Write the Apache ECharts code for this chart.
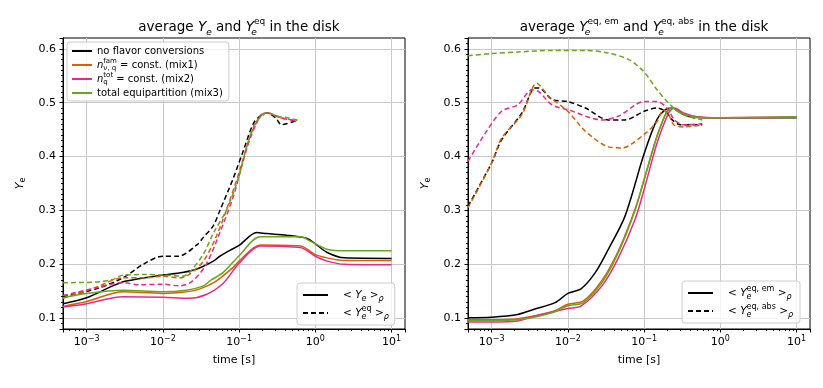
<!DOCTYPE html>
<html>
<head>
<meta charset="utf-8">
<script src="https://cdn.jsdelivr.net/npm/echarts@6/dist/echarts.min.js"></script>
<style>
  html, body { margin: 0; padding: 0; background: #fff; }
  #chart { width: 823px; height: 388px; }
</style>
</head>
<body>
<div id="chart"></div>
<script>
// ---- data: [time in s, Ye] ----
// left panel, solid: <Ye>_rho
const yeNoflav = [[4.9e-4,0.127],[1e-3,0.138],[2.2e-3,0.160],[3.3e-3,0.169],[1e-2,0.180],[1.8e-2,0.185],[2.75e-2,0.191],[4.6e-2,0.206],[5.6e-2,0.215],[7.6e-2,0.226],[0.1,0.235],[0.17,0.259],[0.23,0.257],[0.42,0.254],[0.78,0.248],[1.0,0.238],[1.43,0.222],[2.4,0.212],[10,0.211]];
const yeMix1 = [[4.9e-4,0.122],[1e-3,0.131],[3e-3,0.149],[1e-2,0.146],[1.8e-2,0.148],[3e-2,0.154],[5e-2,0.169],[8.3e-2,0.194],[0.1,0.206],[0.19,0.236],[0.64,0.234],[1.0,0.218],[1.43,0.212],[2.4,0.207],[10,0.207]];
const yeMix2 = [[4.9e-4,0.121],[1e-3,0.127],[3e-3,0.140],[1e-2,0.139],[2.2e-2,0.137],[3.7e-2,0.144],[6.2e-2,0.165],[0.1,0.202],[0.19,0.234],[0.64,0.231],[1.0,0.215],[1.43,0.206],[2.4,0.200],[10,0.199]];
const yeMix3 = [[4.9e-4,0.138],[1e-3,0.146],[3e-3,0.152],[1e-2,0.149],[2e-2,0.152],[3.4e-2,0.160],[4.2e-2,0.170],[6.2e-2,0.185],[0.1,0.216],[0.19,0.251],[0.64,0.251],[0.86,0.243],[1.43,0.228],[2.4,0.225],[10,0.225]];
// left panel, dashed: <Ye^eq>_rho
const yeqNoflav = [[4.9e-4,0.140],[1.3e-3,0.154],[3e-3,0.175],[5.5e-3,0.200],[1e-2,0.215],[1.6e-2,0.215],[2.8e-2,0.236],[3.4e-2,0.250],[4.6e-2,0.272],[5.6e-2,0.300],[8.4e-2,0.360],[0.115,0.413],[0.155,0.462],[0.2,0.478],[0.23,0.481],[0.3,0.472],[0.36,0.459],[0.42,0.461],[0.58,0.467]];
const yeqMix1 = [[4.9e-4,0.137],[1.3e-3,0.157],[3e-3,0.175],[6e-3,0.175],[1e-2,0.178],[1.66e-2,0.175],[2.2e-2,0.181],[3.4e-2,0.206],[5.1e-2,0.254],[7.6e-2,0.320],[0.103,0.376],[0.14,0.438],[0.19,0.475],[0.23,0.481],[0.35,0.472],[0.58,0.467]];
const yeqMix2 = [[4.9e-4,0.142],[1.3e-3,0.156],[3e-3,0.166],[4.9e-3,0.162],[1e-2,0.163],[1.66e-2,0.160],[2.45e-2,0.169],[3.7e-2,0.200],[5.6e-2,0.259],[8.4e-2,0.326],[0.108,0.382],[0.14,0.434],[0.19,0.475],[0.23,0.481],[0.35,0.472],[0.58,0.465]];
const yeqMix3 = [[4.9e-4,0.166],[1.3e-3,0.167],[2.2e-3,0.172],[3e-3,0.180],[6e-3,0.181],[1e-2,0.180],[1.8e-2,0.178],[2.2e-2,0.184],[3.4e-2,0.219],[4.6e-2,0.258],[6.9e-2,0.302],[0.1,0.364],[0.126,0.419],[0.162,0.462],[0.21,0.478],[0.23,0.482],[0.32,0.475],[0.43,0.472],[0.58,0.468]];
// right panel, solid: <Ye^eq,em>_rho
const emNoflav = [[4.9e-4,0.101],[1e-3,0.102],[2.2e-3,0.107],[3.7e-3,0.117],[6.8e-3,0.129],[1e-2,0.146],[1.5e-2,0.155],[2.3e-2,0.185],[3.4e-2,0.228],[5.6e-2,0.289],[0.1,0.405],[0.148,0.469],[0.19,0.487],[0.234,0.490],[0.33,0.478],[0.45,0.473],[1,0.472],[10,0.472]];
const emMix1 = [[4.9e-4,0.097],[1e-3,0.097],[2.2e-3,0.099],[6.2e-3,0.112],[1e-2,0.126],[1.6e-2,0.132],[2.8e-2,0.170],[4.6e-2,0.225],[7.6e-2,0.302],[0.1,0.357],[0.148,0.438],[0.2,0.484],[0.234,0.490],[0.3,0.481],[0.5,0.473],[1,0.472],[10,0.473]];
const emMix2 = [[4.9e-4,0.093],[1e-3,0.093],[2.2e-3,0.095],[3.7e-3,0.104],[1e-2,0.118],[1.5e-2,0.123],[2.8e-2,0.160],[4.6e-2,0.212],[7.6e-2,0.283],[0.1,0.339],[0.148,0.425],[0.21,0.481],[0.25,0.490],[0.33,0.481],[0.5,0.474],[1,0.472],[10,0.473]];
const emMix3 = [[4.9e-4,0.096],[1e-3,0.096],[2.2e-3,0.097],[6.2e-3,0.110],[1e-2,0.123],[1.6e-2,0.129],[2.8e-2,0.166],[4.6e-2,0.222],[7.6e-2,0.300],[0.1,0.357],[0.148,0.438],[0.2,0.484],[0.234,0.490],[0.3,0.481],[0.5,0.473],[1,0.472],[10,0.474]];
// right panel, dashed: <Ye^eq,abs>_rho
const absNoflav = [[4.9e-4,0.308],[1e-3,0.388],[1.35e-3,0.431],[2.5e-3,0.481],[3.7e-3,0.527],[4.2e-3,0.527],[6.2e-3,0.506],[1e-2,0.502],[1.7e-2,0.490],[3.4e-2,0.468],[5.6e-2,0.468],[0.1,0.484],[0.148,0.490],[0.19,0.484],[0.234,0.468],[0.3,0.459],[0.43,0.459],[0.58,0.459]];
const absMix1 = [[4.9e-4,0.305],[1e-3,0.388],[1.35e-3,0.434],[2.5e-3,0.478],[3.9e-3,0.536],[5.6e-3,0.512],[1e-2,0.484],[1.7e-2,0.447],[3.4e-2,0.418],[5.1e-2,0.416],[0.1,0.441],[0.148,0.465],[0.18,0.487],[0.21,0.478],[0.245,0.459],[0.33,0.455],[0.58,0.459]];
const absMix2 = [[4.9e-4,0.391],[8.3e-4,0.444],[1.35e-3,0.484],[2.2e-3,0.496],[3.4e-3,0.524],[4.2e-3,0.520],[6.2e-3,0.496],[1e-2,0.487],[2.8e-2,0.468],[4.6e-2,0.475],[0.1,0.502],[0.148,0.502],[0.2,0.490],[0.25,0.468],[0.33,0.459],[0.58,0.461]];
const absMix3 = [[4.9e-4,0.587],[1e-3,0.591],[2.2e-3,0.594],[6.2e-3,0.597],[1.7e-2,0.597],[3.4e-2,0.592],[6.3e-2,0.580],[0.1,0.557],[0.148,0.524],[0.22,0.496],[0.3,0.481],[0.41,0.473],[0.58,0.468]];

const runNames = ['noflav', 'mix1', 'mix2', 'mix3'];
const runColors = ['#000000', '#d95f02', '#e7298a', '#66a61e'];

const FONT = 'DejaVu Sans';

const legendText = {
  noflav: 'no flavor conversions',
  mix1: '{it|n}{subz|ν, q}{sup|fam} = const. (mix1)',
  mix2: '{it|n}{subz|q}{sup|tot} = const. (mix2)',
  mix3: 'total equipartition (mix3)',
  ye: '   < {it|Y}{sit|e} >{sit|ρ}',
  yeq: '   < {it|Y}{sitz|e}{sup|eq} >{sit|ρ}',
  em: '   < {it|Y}{sitz|e}{sup|eq, em} >{sit|ρ}',
  abs: '   < {it|Y}{sitz|e}{sup|eq, abs} >{sit|ρ}'
};

function mkSeries(name, color, data, dashed, idx) {
  return {
    name: name, type: 'line', data: data,
    xAxisIndex: idx, yAxisIndex: idx,
    symbol: 'none', showSymbol: false, smooth: 0.3,
    lineStyle: { color: color, width: 1.5, type: dashed ? [5, 3] : 'solid' },
    itemStyle: { color: color },
    emphasis: { disabled: true }
  };
}

const leftSolid = [yeNoflav, yeMix1, yeMix2, yeMix3];
const leftDash = [yeqNoflav, yeqMix1, yeqMix2, yeqMix3];
const rightSolid = [emNoflav, emMix1, emMix2, emMix3];
const rightDash = [absNoflav, absMix1, absMix2, absMix3];

const series = [];
for (let i = 0; i < 4; i++) {
  series.push(mkSeries(runNames[i], runColors[i], leftSolid[i], false, 0));
  series.push(mkSeries(runNames[i], runColors[i], leftDash[i], true, 0));
  series.push(mkSeries(runNames[i], runColors[i], rightSolid[i], false, 1));
  series.push(mkSeries(runNames[i], runColors[i], rightDash[i], true, 1));
}
// empty series only for the line-style legends
series.push(mkSeries('ye', '#000', [], false, 0));
series.push(mkSeries('yeq', '#000', [], true, 0));
series.push(mkSeries('em', '#000', [], false, 1));
series.push(mkSeries('abs', '#000', [], true, 1));

function xAxis(idx) {
  return {
    type: 'log', logBase: 10, gridIndex: idx, min: 4.9e-4, max: 15,
    name: 'time [s]', nameLocation: 'middle', nameGap: 26,
    nameTextStyle: { fontFamily: FONT, fontSize: 11, color: '#000' },
    axisLine: { show: true, lineStyle: { color: '#000', width: 1 } },
    axisTick: { show: true, length: 3.5, lineStyle: { color: '#000' } },
    minorTick: { show: true, splitNumber: 9, length: 2, lineStyle: { color: '#000' } },
    splitLine: { show: true, showMinLine: false, showMaxLine: false, lineStyle: { color: '#c8c8c8', width: 1 } },
    axisLabel: {
      margin: 6, fontFamily: FONT, fontSize: 11, color: '#000', lineHeight: 15,
      formatter: function (v) {
        const e = Math.round(Math.log10(v));
        if (Math.abs(Math.log10(v) - e) > 1e-6) return '';
        return '10{sup|' + (e < 0 ? '\u2212' + (-e) : e) + '}';
      },
      rich: { sup: { fontSize: 8, verticalAlign: 'top', fontFamily: FONT } }
    }
  };
}

function yAxis(idx) {
  return {
    type: 'value', gridIndex: idx, min: 0.08, max: 0.62,
    name: '{it|Y}{sub|e}', nameLocation: 'middle', nameGap: 36, nameRotate: 90,
    nameTextStyle: { fontFamily: FONT, fontSize: 11, color: '#000', lineHeight: 14,
      rich: { it: { fontStyle: 'italic', fontSize: 11 }, sub: { fontSize: 8, verticalAlign: 'bottom' } } },
    axisLine: { show: true, lineStyle: { color: '#000', width: 1 } },
    axisTick: { show: true, length: 3.5, lineStyle: { color: '#000' } },
    minorTick: { show: true, splitNumber: 10, length: 2, lineStyle: { color: '#000' } },
    splitLine: { show: true, showMinLine: false, showMaxLine: false, lineStyle: { color: '#c8c8c8', width: 1 } },
    axisLabel: {
      margin: 7, fontFamily: FONT, fontSize: 11, color: '#000',
      formatter: function (v) {
        return Math.abs(v * 10 - Math.round(v * 10)) < 1e-6 ? v.toFixed(1) : '';
      }
    }
  };
}

const legendBox = {
  backgroundColor: 'rgba(255,255,255,0.8)', borderColor: '#cccccc', borderWidth: 1, borderRadius: 3,
  // line only, no marker in the middle
  itemStyle: { color: 'transparent', borderColor: 'transparent', borderWidth: 0, opacity: 0 }
};
function richFor(sz) {
  return {
    it: { fontStyle: 'italic' },
    sup: { fontSize: sz, verticalAlign: 'top' },
    subz: { fontSize: sz, verticalAlign: 'bottom', width: 0.01 },
    sit: { fontSize: sz, verticalAlign: 'bottom', fontStyle: 'italic' },
    sitz: { fontSize: sz, verticalAlign: 'bottom', fontStyle: 'italic', width: 0.01 }
  };
}

const titleRich = {
  it: { fontStyle: 'italic', fontSize: 13.5 },
  sup: { fontSize: 9, verticalAlign: 'top' },
  sub: { fontSize: 9, verticalAlign: 'bottom', fontStyle: 'italic' },
  subz: { fontSize: 9, verticalAlign: 'bottom', fontStyle: 'italic', width: 0.01 }
};

const option = {
  animation: false,
  backgroundColor: '#ffffff',
  title: [
    { text: 'average {it|Y}{sub|e} and {it|Y}{subz|e}{sup|eq} in the disk', left: 234, top: 12, textAlign: 'center',
      textStyle: { fontFamily: FONT, fontSize: 13.5, fontWeight: 'normal', color: '#000', lineHeight: 20, rich: titleRich } },
    { text: 'average {it|Y}{subz|e}{sup|eq, em} and {it|Y}{subz|e}{sup|eq, abs} in the disk', left: 639, top: 12, textAlign: 'center',
      textStyle: { fontFamily: FONT, fontSize: 13.5, fontWeight: 'normal', color: '#000', lineHeight: 20, rich: titleRich } }
  ],
  grid: [
    { left: 63, top: 38, width: 342, height: 291, show: true, borderColor: '#000', borderWidth: 1, backgroundColor: 'transparent' },
    { left: 468, top: 38, width: 342, height: 291, show: true, borderColor: '#000', borderWidth: 1, backgroundColor: 'transparent' }
  ],
  xAxis: [xAxis(0), xAxis(1)],
  yAxis: [yAxis(0), yAxis(1)],
  legend: [
    Object.assign({
      left: 67, top: 42, orient: 'vertical', data: runNames,
      itemWidth: 20, itemHeight: 10, itemGap: 0, padding: [2, 6, 1, 4],
      formatter: function (n) { return legendText[n]; },
      textStyle: { fontFamily: FONT, fontSize: 10, color: '#000', lineHeight: 14, rich: richFor(7) }
    }, legendBox),
    Object.assign({
      left: 297, top: 283, orient: 'vertical', data: ['ye', 'yeq'],
      itemWidth: 25, itemHeight: 10, itemGap: 2, padding: [4, 6, 4, 5],
      formatter: function (n) { return legendText[n]; },
      textStyle: { fontFamily: FONT, fontSize: 10.5, color: '#000', lineHeight: 16, rich: richFor(8) }
    }, legendBox),
    Object.assign({
      left: 682, top: 281, orient: 'vertical', data: ['em', 'abs'],
      itemWidth: 25, itemHeight: 10, itemGap: 2, padding: [4, 7, 4, 5],
      formatter: function (n) { return legendText[n]; },
      textStyle: { fontFamily: FONT, fontSize: 10.5, color: '#000', lineHeight: 16, rich: richFor(8) }
    }, legendBox)
  ],
  series: series
};

const myChart = echarts.init(document.getElementById('chart'));
myChart.setOption(option);
</script>
</body>
</html>
